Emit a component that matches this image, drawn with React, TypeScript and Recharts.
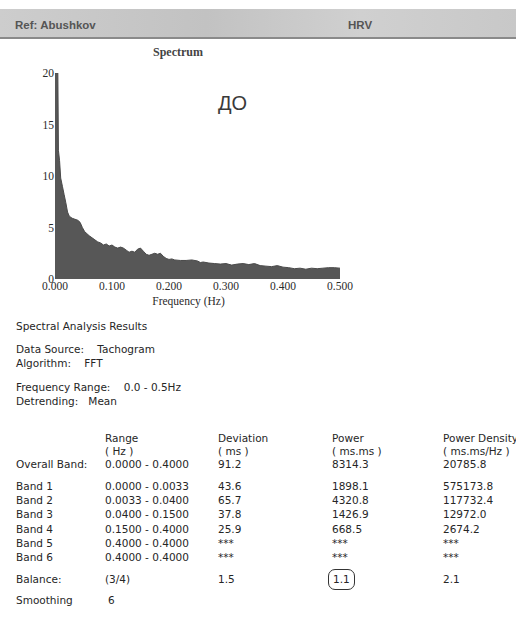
import { AreaChart, Area, XAxis, YAxis } from 'recharts';

// spectrum samples (Hz, ms²/Hz x 1000)
const FREQS = [
  0.0, 0.003, 0.005, 0.006, 0.008, 0.01, 0.013, 0.016, 0.019, 0.022, 0.025, 0.03, 0.035, 0.04,
  0.044, 0.048, 0.052, 0.056, 0.06, 0.065, 0.07, 0.075, 0.08, 0.085, 0.09, 0.095, 0.1, 0.105,
  0.11, 0.115, 0.12, 0.125, 0.13, 0.135, 0.14, 0.145, 0.15, 0.155, 0.16, 0.165, 0.17, 0.175,
  0.18, 0.185, 0.19, 0.195, 0.2, 0.205, 0.21, 0.22, 0.23, 0.24, 0.25, 0.255, 0.26, 0.27, 0.28,
  0.29, 0.3, 0.31, 0.32, 0.33, 0.34, 0.35, 0.36, 0.37, 0.38, 0.39, 0.4, 0.41, 0.42, 0.43, 0.44,
  0.45, 0.46, 0.47, 0.48, 0.49, 0.5,
];
const POWER = [
  20, 20, 20, 12.5, 11.5, 9.8, 9.0, 8.2, 7.4, 6.5, 6.1, 5.9, 5.8, 5.7,
  5.5, 5.0, 4.6, 4.4, 4.2, 4.0, 3.8, 3.6, 3.5, 3.3, 3.4, 3.2, 3.3, 3.1,
  3.0, 3.1, 3.0, 2.8, 2.6, 2.7, 2.6, 2.9, 3.0, 2.7, 2.4, 2.3, 2.4, 2.5,
  2.4, 2.5, 2.2, 2.0, 1.9, 1.95, 1.85, 1.8, 1.8, 1.85, 1.75, 1.6, 1.65, 1.55, 1.5,
  1.45, 1.5, 1.35, 1.45, 1.5, 1.4, 1.5, 1.3, 1.25, 1.2, 1.3, 1.15, 1.1, 1.0, 1.05, 0.95,
  1.05, 1.0, 1.05, 1.1, 1.1, 1.05,
];
const X_TICKS = [0, 0.1, 0.2, 0.3, 0.4, 0.5];
const Y_TICKS = [0, 5, 10, 15, 20];

// results table
const BAND_NAMES = ['Band 1', 'Band 2', 'Band 3', 'Band 4', 'Band 5', 'Band 6'];
const BAND_RANGES = [
  '0.0000 - 0.0033',
  '0.0033 - 0.0400',
  '0.0400 - 0.1500',
  '0.1500 - 0.4000',
  '0.4000 - 0.4000',
  '0.4000 - 0.4000',
];
const BAND_DEVIATION = ['43.6', '65.7', '37.8', '25.9', '***', '***'];
const BAND_POWER = ['1898.1', '4320.8', '1426.9', '668.5', '***', '***'];
const BAND_DENSITY = ['575173.8', '117732.4', '12972.0', '2674.2', '***', '***'];

const spectrum = FREQS.map((f, i) => ({ f, p: POWER[i] }));

const SERIF = '"Liberation Serif", "DejaVu Serif", serif';
const SANS = '"DejaVu Sans", sans-serif';
const ARIAL = '"Liberation Sans", sans-serif';

const COL = [16, 105, 218, 332, 443];

function T({ x, y, children, style }: { x: number; y: number; children: any; style?: any }) {
  return (
    <div
      style={{
        position: 'absolute',
        left: x,
        top: y - 7,
        lineHeight: '14px',
        whiteSpace: 'nowrap',
        fontFamily: SANS,
        fontSize: 10.5,
        color: '#262626',
        ...style,
      }}
    >
      {children}
    </div>
  );
}

function Spectrum() {
  return (
    <AreaChart
      width={360}
      height={250}
      data={spectrum}
      margin={{ top: 13, right: 20, bottom: 0, left: 0 }}
    >
      <XAxis
        dataKey="f"
        type="number"
        domain={[0, 0.5]}
        ticks={X_TICKS}
        tickFormatter={(v: number) => v.toFixed(3)}
        height={31}
        axisLine={false}
        tickLine={false}
        tickSize={0}
        tickMargin={3}
        tick={{ fontFamily: SERIF, fontSize: 11.5, fill: '#2a2a2a' }}
        label={{
          value: 'Frequency (Hz)',
          position: 'insideBottom',
          offset: 5,
          dx: -9,
          style: { fontFamily: SERIF, fontSize: 11.5, fill: '#2a2a2a' },
        }}
      />
      <YAxis
        type="number"
        domain={[0, 20]}
        ticks={Y_TICKS}
        allowDataOverflow
        width={55}
        axisLine={false}
        tickLine={false}
        tickSize={0}
        tickMargin={1}
        tick={{ fontFamily: SERIF, fontSize: 11.5, fill: '#2a2a2a' }}
      />
      <Area
        type="linear"
        dataKey="p"
        stroke="#4a4a4a"
        strokeWidth={1}
        fill="#575757"
        fillOpacity={1}
        isAnimationActive={false}
      />
    </AreaChart>
  );
}

export default function App() {
  const bandTop = 486;
  const bandStep = 14.2;
  return (
    <div
      style={{
        position: 'absolute',
        left: 0,
        top: 0,
        width: 516,
        height: 624,
        background: '#fff',
        overflow: 'hidden',
      }}
    >
      {/* report header strip */}
      <div
        style={{
          position: 'absolute',
          left: 0,
          top: 9,
          width: 516,
          height: 28,
          background: 'linear-gradient(90deg, #cdcdcd 0%, #c2c2c2 40%, #d0d0d0 70%, #c8c8c8 100%)',
          borderBottom: '2px solid #8a8a8a',
        }}
      />
      <T x={15} y={25} style={{ fontFamily: ARIAL, fontWeight: 'bold', fontSize: 11.5, color: '#555' }}>
        Ref: Abushkov
      </T>
      <T x={348} y={25} style={{ fontFamily: ARIAL, fontWeight: 'bold', fontSize: 11.5, color: '#555' }}>
        HRV
      </T>
      <T x={153} y={52} style={{ fontFamily: SERIF, fontWeight: 'bold', fontSize: 12, color: '#444' }}>
        Spectrum
      </T>

      <div style={{ position: 'absolute', left: 0, top: 60 }}>
        <Spectrum />
      </div>
      <T x={218} y={103} style={{ fontFamily: ARIAL, fontSize: 20, lineHeight: '22px', top: 92, color: '#3a3a3a' }}>
        ДО
      </T>

      <T x={16} y={326}>Spectral Analysis Results</T>
      <T x={16} y={349}>Data Source:&nbsp;&nbsp;&nbsp; Tachogram</T>
      <T x={16} y={363}>Algorithm:&nbsp;&nbsp;&nbsp; FFT</T>
      <T x={16} y={387}>Frequency Range:&nbsp;&nbsp;&nbsp; 0.0 - 0.5Hz</T>
      <T x={16} y={401}>Detrending:&nbsp;&nbsp; Mean</T>

      <T x={COL[1]} y={438}>Range</T>
      <T x={COL[1]} y={451}>( Hz )</T>
      <T x={COL[2]} y={438}>Deviation</T>
      <T x={COL[2]} y={451}>( ms )</T>
      <T x={COL[3]} y={438}>Power</T>
      <T x={COL[3]} y={451}>( ms.ms )</T>
      <T x={COL[4]} y={438}>Power Density</T>
      <T x={COL[4]} y={451}>( ms.ms/Hz )</T>

      <T x={COL[0]} y={464}>Overall Band:</T>
      <T x={COL[1]} y={464}>0.0000 - 0.4000</T>
      <T x={COL[2]} y={464}>91.2</T>
      <T x={COL[3]} y={464}>8314.3</T>
      <T x={COL[4]} y={464}>20785.8</T>

      {BAND_NAMES.map((name, i) => {
        const y = bandTop + i * bandStep;
        return (
          <div key={name}>
            <T x={COL[0]} y={y}>{name}</T>
            <T x={COL[1]} y={y}>{BAND_RANGES[i]}</T>
            <T x={COL[2]} y={y}>{BAND_DEVIATION[i]}</T>
            <T x={COL[3]} y={y}>{BAND_POWER[i]}</T>
            <T x={COL[4]} y={y}>{BAND_DENSITY[i]}</T>
          </div>
        );
      })}

      <T x={COL[0]} y={579}>Balance:</T>
      <T x={COL[1]} y={579}>(3/4)</T>
      <T x={COL[2]} y={579}>1.5</T>
      <div
        style={{
          position: 'absolute',
          left: 328,
          top: 569,
          width: 27,
          height: 21,
          border: '1.5px solid #333',
          borderRadius: 7,
          boxSizing: 'border-box',
        }}
      />
      <T x={333} y={579}>1.1</T>
      <T x={COL[4]} y={579}>2.1</T>

      <T x={COL[0]} y={600}>Smoothing</T>
      <T x={COL[1] + 3} y={600}>6</T>
    </div>
  );
}
